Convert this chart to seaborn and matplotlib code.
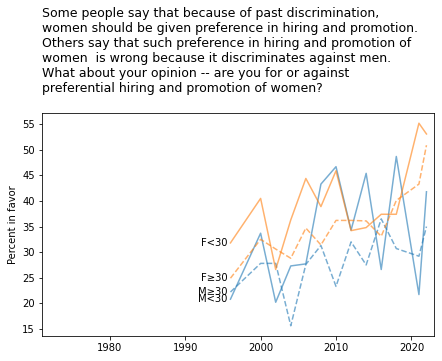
import matplotlib
matplotlib.use("Agg")
import matplotlib.pyplot as plt
import pandas as pd
import seaborn as sns

years = [1996, 2000, 2002, 2004, 2006, 2008, 2010, 2012, 2014, 2016, 2018, 2021, 2022]

f_young = [31.8, 40.5, 26.6, 36.3, 44.4, 38.9, 45.9, 34.2, 34.8, 37.4, 37.4, 55.2, 53.1]
f_old = [24.9, 32.5, 30.6, 28.8, 34.7, 31.4, 36.2, 36.2, 36.1, 33.1, 40.1, 43.3, 50.9]
m_old = [22.2, 27.8, 27.8, 15.6, 27.6, 31.3, 23.3, 32.0, 27.5, 36.5, 30.7, 29.2, 35.0]
m_young = [20.8, 33.7, 20.2, 27.3, 27.7, 43.3, 46.7, 34.3, 45.4, 26.6, 48.7, 21.7, 41.8]

series = {
    "F<30": ("F", "<30", f_young),
    "F≥30": ("F", "≥30", f_old),
    "M≥30": ("M", "≥30", m_old),
    "M<30": ("M", "<30", m_young),
}

title = ("Some people say that because of past discrimination,\n"
         "women should be given preference in hiring and promotion.\n"
         "Others say that such preference in hiring and promotion of\n"
         "women  is wrong because it discriminates against men.\n"
         "What about your opinion -- are you for or against\n"
         "preferential hiring and promotion of women?")

rows = []
for label, (sex, age, vals) in series.items():
    for y, v in zip(years, vals):
        rows.append({"year": y, "pct": v, "sex": sex, "age": age, "label": label})
df = pd.DataFrame(rows)

fig = plt.figure(figsize=(442 / 72, 361 / 72), dpi=72)
ax = fig.add_axes([42 / 442, 1 - 336 / 361, 392 / 442, 223 / 361])

sns.lineplot(data=df, x="year", y="pct", hue="sex", style="age",
             hue_order=["M", "F"], style_order=["<30", "≥30"],
             palette=["C0", "C1"], dashes=["", (3.7, 1.6)],
             alpha=0.6, linewidth=1.5, ax=ax, legend=False)

for label, (sex, age, vals) in series.items():
    ax.text(years[0] - 0.4, vals[0], label, ha="right", va="center", fontsize=10)

ax.set_xlim(1971, 2023)
ax.set_ylim(13.6, 57.2)
ax.set_yticks(range(15, 56, 5))
ax.set_xticks([1980, 1990, 2000, 2010, 2020])
ax.set_xlabel("")
ax.set_ylabel("Percent in favor", fontsize=10)
ax.tick_params(labelsize=10)

fig.text(42 / 442, 1 - 7 / 361, title, ha="left", va="top", fontsize=12.5, linespacing=1.2)

fig.savefig("out.png", dpi=72)
